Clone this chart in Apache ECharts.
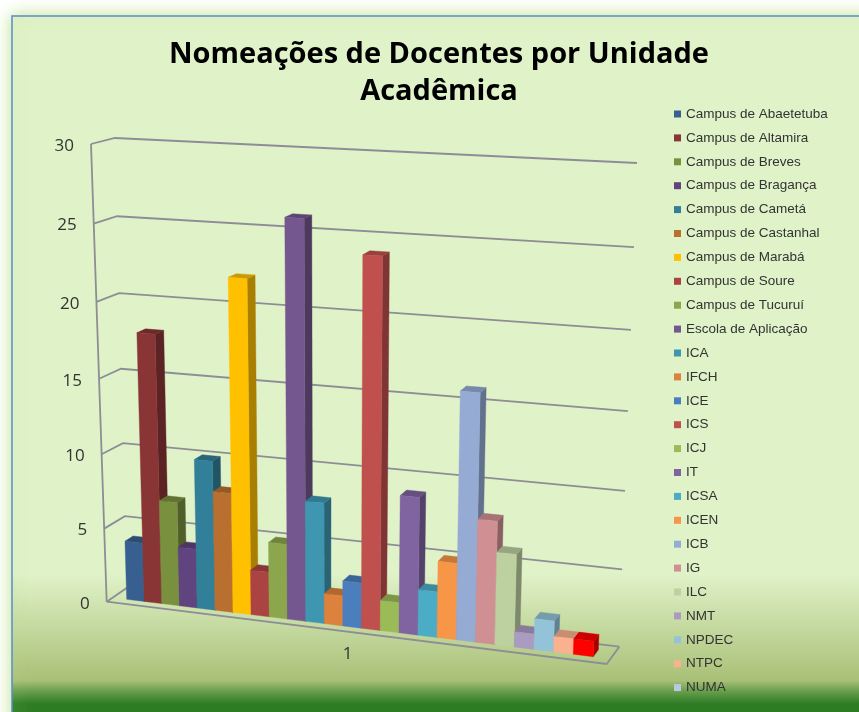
<!DOCTYPE html>
<html>
<head>
<meta charset="utf-8">
<title>Nomeações de Docentes por Unidade Acadêmica</title>
<script src="https://cdn.jsdelivr.net/npm/echarts@6/dist/echarts.min.js"></script>
<style>
    html, body { margin: 0; padding: 0; background: #fff; }
    #chart { width: 859px; height: 712px; }
</style>
</head>
<body>
<div id="chart"></div>
<script>
const categories = ['1'];
const unitNames = ['Campus de Abaetetuba', 'Campus de Altamira', 'Campus de Breves', 'Campus de Bragança', 'Campus de Cametá',
    'Campus de Castanhal', 'Campus de Marabá', 'Campus de Soure', 'Campus de Tucuruí', 'Escola de Aplicação',
    'ICA', 'IFCH', 'ICE', 'ICS', 'ICJ', 'IT', 'ICSA', 'ICEN', 'ICB', 'IG', 'ILC', 'NMT', 'NPDEC', 'NTPC', 'NUMA'];
const unitValues = [4, 18, 7, 4, 10, 8, 22, 3, 5, 26, 8, 2, 3, 24, 2, 9, 3, 5, 16, 8, 6, 1, 2, 1, 1];
const yTicks = [0, 5, 10, 15, 20, 25, 30];

const legendColors = ['#375f8f', '#8a3535', '#79903f', '#60447f', '#327f99', '#b96f2f', '#ffc000', '#ab4342', '#8ba64c', '#74578e',
    '#3f96b1', '#dc823c', '#4b7ebd', '#c0504d', '#9bbb59', '#8064a2', '#4bacc6', '#f79646', '#95abd4', '#d09093',
    '#bdd0a0', '#aa9bc0', '#92c3d8', '#fab18d', '#b8c8e2'];
const barColors = legendColors.slice(0, 24).concat(['#ff0000']);

// corners of the 3d box on screen
const box = {
    frontLeftLow: [106.7, 601.7], frontRightLow: [606.7, 664],
    backLeftLow: [126.7, 588], backRightLow: [619.3, 646.7],
    frontLeftTop: [91, 144], frontRightTop: [625, 174],
    backLeftTop: [115, 138], backRightTop: [637, 163]
};
const gridRect = { left: 107, top: 144, width: 500, height: 458 };

function warp(t, k) {
    return t * (1 + k) / (1 + k * t);
}
function mix(a, b, t) {
    return [a[0] + (b[0] - a[0]) * t, a[1] + (b[1] - a[1]) * t];
}
// u along the categories, v up the value axis, w into the depth, all 0..1
function project(u, v, w) {
    const uu = warp(u, -0.07);
    const vv = warp(v, -0.05);
    const low = mix(mix(box.frontLeftLow, box.frontRightLow, uu), mix(box.backLeftLow, box.backRightLow, uu), w);
    const top = mix(mix(box.frontLeftTop, box.frontRightTop, uu), mix(box.backLeftTop, box.backRightTop, uu), w);
    return mix(low, top, vv);
}
function shade(hex, f) {
    const n = parseInt(hex.slice(1), 16);
    const r = Math.round((n >> 16) * f);
    const g = Math.round(((n >> 8) & 255) * f);
    const b = Math.round((n & 255) * f);
    return 'rgb(' + r + ',' + g + ',' + b + ')';
}
function toUnit(params, pt) {
    const cs = params.coordSys;
    return [(pt[0] - cs.x) / cs.width, (cs.y + cs.height - pt[1]) / cs.height];
}
function poly(points, fill) {
    return { type: 'polygon', shape: { points: points }, style: { fill: fill, stroke: fill, lineWidth: 0.4 } };
}
function line(points) {
    return { type: 'polyline', shape: { points: points }, style: { stroke: '#8d8d96', lineWidth: 1.8, fill: null } };
}

function renderFrame(params, api) {
    const v = toUnit(params, api.coord([0, api.value(1)]))[1];
    const children = [
        line([project(0, v, 0), project(0, v, 1), project(1, v, 1)])
    ];
    const p = project(0, v, 0);
    children.push({
        type: 'text',
        style: { text: String(api.value(1)), x: p[0] - 17, y: p[1] + 2, align: 'right', verticalAlign: 'middle',
            font: '17px "Open Sans"', fill: '#333' }
    });
    if (params.dataIndex === 0) {
        children.push(line([project(0, 0, 0), project(0, 1, 0)]));
        children.push(line([project(0, 0, 0), project(1, 0, 0), project(1, 0, 1)]));
        const mid = project(0.5, 0, 0);
        children.push({
            type: 'text',
            style: { text: categories[0], x: mid[0], y: mid[1] + 22, align: 'center', verticalAlign: 'middle',
                font: '17px "Open Sans"', fill: '#333' }
        });
    }
    return { type: 'group', children: children };
}

const barStart = 0.0302;
const barStep = 0.0375;
const barFront = 0.3;
const barBack = 0.7;

function renderBar(params, api) {
    const idx = params.seriesIndex - 1;
    const color = barColors[idx];
    const top = toUnit(params, api.coord([0, api.value(1)]))[1];
    const u0 = barStart + idx * barStep;
    const u1 = u0 + barStep;
    const a = project(u0, 0, barFront), b = project(u1, 0, barFront);
    const c = project(u1, top, barFront), d = project(u0, top, barFront);
    const e = project(u1, 0, barBack), f = project(u1, top, barBack), g = project(u0, top, barBack);
    return {
        type: 'group',
        children: [
            poly([b, e, f, c], shade(color, 0.66)),
            poly([d, c, f, g], shade(color, 0.8)),
            poly([a, b, c, d], color)
        ]
    };
}

const series = [{
    name: 'frame',
    type: 'custom',
    renderItem: renderFrame,
    clip: false,
    silent: true,
    data: yTicks.map(t => [0, t])
}];
unitNames.forEach(function (name, i) {
    series.push({
        name: name,
        type: 'custom',
        renderItem: renderBar,
        clip: false,
        itemStyle: { color: legendColors[i] },
        data: [[0, unitValues[i]]]
    });
});

const chart = echarts.init(document.getElementById('chart'));
chart.setOption({
    animation: false,
    graphic: [
        {
            type: 'rect', z: -10, silent: true,
            shape: { x: 12, y: 16, width: 900, height: 720 },
            style: {
                fill: {
                    type: 'linear', x: 0, y: 0, x2: 0, y2: 1,
                    colorStops: [
                        { offset: 0, color: '#e0f2c8' },
                        { offset: 0.774, color: '#e0f2c8' },
                        { offset: 0.922, color: '#a9c077' },
                        { offset: 0.936, color: '#6ca04f' },
                        { offset: 0.954, color: '#2e7d25' },
                        { offset: 1, color: '#2a7a1f' }
                    ]
                },
                stroke: '#5b8bd0',
                lineWidth: 1.5,
                shadowBlur: 16,
                shadowColor: '#bfe08a'
            }
        }
    ],
    title: {
        text: 'Nomeações de Docentes por Unidade\nAcadêmica',
        left: 434,
        top: 31,
        textAlign: 'center',
        textStyle: { fontFamily: 'Open Sans', fontWeight: 'bold', fontSize: 29, lineHeight: 37, color: '#000' }
    },
    legend: {
        orient: 'vertical',
        left: 669,
        top: 102,
        data: unitNames,
        icon: 'rect',
        itemWidth: 7,
        itemHeight: 7,
        itemGap: 9.9,
        selectedMode: false,
        textStyle: { fontFamily: 'Liberation Sans', fontSize: 13.5, lineHeight: 14, color: '#333' }
    },
    grid: gridRect,
    xAxis: { type: 'category', data: categories, show: false },
    yAxis: { type: 'value', min: 0, max: 30, interval: 5, show: false },
    series: series
});
</script>
</body>
</html>
